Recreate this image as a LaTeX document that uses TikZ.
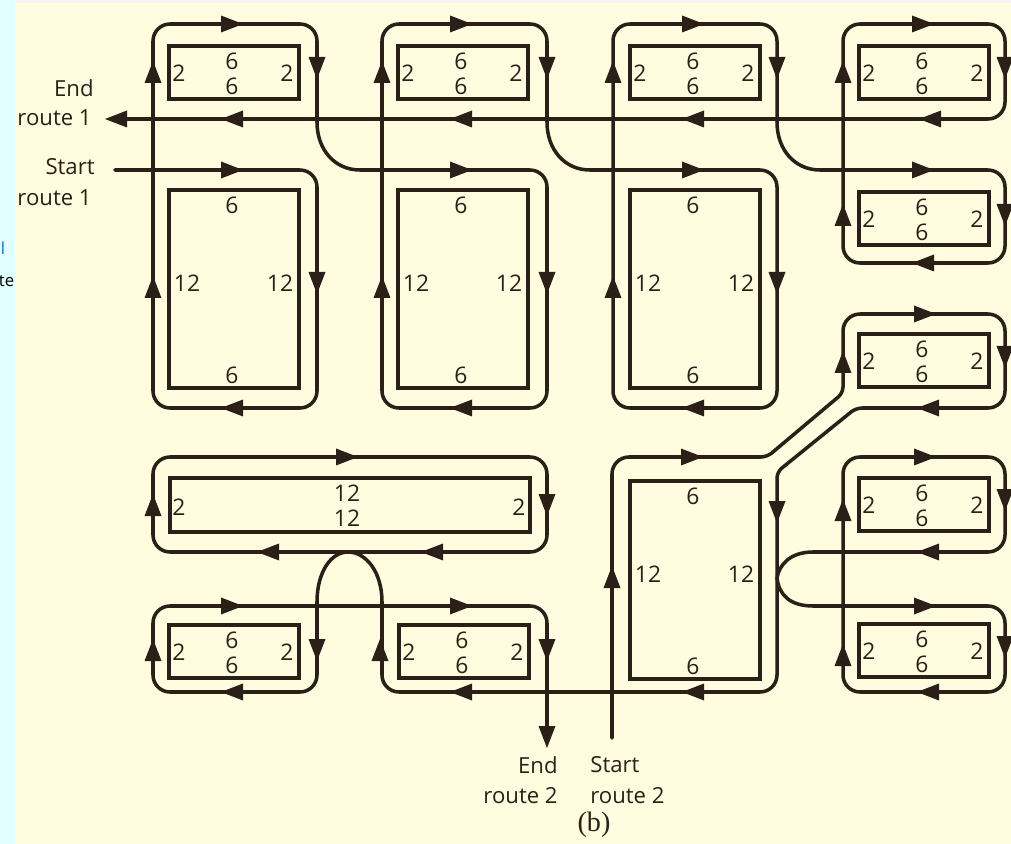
\documentclass[tikz,border=0pt]{standalone}
\usepackage{fontspec}
\setmainfont{Open Sans}
\newfontfamily\capfont{Liberation Serif}
\usetikzlibrary{arrows.meta, positioning, calc}
\definecolor{cink}{HTML}{2B2018}
\definecolor{cpaper}{HTML}{FFFCDF}
\definecolor{cside}{HTML}{E2FFFF}
\definecolor{cblue}{HTML}{0A6FD0}
\tikzset{
  route/.style={cink, line width=2pt, line join=round, line cap=round, rounded corners=0.34cm},
  slant/.style={route, rounded corners=0.12cm},
  turn/.style={cink, line width=2pt, line cap=round},
  block/.style={cink, line width=2.1pt},
  tipmark/.style={fill=cink, draw=none},
  num/.style={text=cink, font=\fontsize{13}{15}\selectfont, inner sep=0pt},
  tag/.style={text=cink, font=\fontsize{12.6}{14}\selectfont, inner sep=0pt},
  stub/.style={font=\fontsize{9.5}{11}\selectfont, inner sep=0pt}
}
\begin{document}
\begin{tikzpicture}[x=0.02cm, y=-0.02cm]
  % Page
  \useasboundingbox (0,0) rectangle (1011,844);
  \fill[cside] (0,0) rectangle (1011,844);
  \fill[white!96!black] (15,0) rectangle (1011,3);
  \fill[cpaper] (15,3) rectangle (1011,844);
  \node[stub, text=cblue, anchor=west] (stubl) at (0.5,248) {l};
  \node[stub, text=black, anchor=east] (stubte) at (14.5,281) {te};

  % Small blocks
  \foreach \n/\x/\y in {a/234/72, b/463/72, c/695/72, d/924/72, e/924/218,
                        f/924/360, g/924/504, h/924/650, i/234/651, j/464/651}{
    \draw[block] (\x-65,\y-26) rectangle (\x+65,\y+27);
    \node[num] (\n top) at (\x-2,\y-11) {6};
    \node[num] (\n low) at (\x-2,\y+14) {6};
    \node[num] (\n lft) at (\x-55,\y+1) {2};
    \node[num] (\n rgt) at (\x+53,\y+1) {2};
  }

  % Large blocks
  \foreach \n/\x/\y in {k/234/289, l/463/289, m/695/289, n/695/580}{
    \draw[block] (\x-65,\y-99) rectangle (\x+65,\y+99);
    \node[num] (\n top) at (\x-2,\y-84) {6};
    \node[num] (\n low) at (\x-2,\y+86) {6};
    \node[num] (\n lft) at (\x-47,\y-6) {12};
    \node[num] (\n rgt) at (\x+46,\y-6) {12};
  }

  % Long block
  \draw[block] (170,478) rectangle (530,532);
  \node[num] (wtop) at (347,493) {12};
  \node[num] (wlow) at (347,518) {12};
  \node[num] (wlft) at (179,507) {2};
  \node[num] (wrgt) at (519,507) {2};

  % Route 1
  \coordinate (startone) at (115,170);
  \coordinate (endone) at (120,119);
  \draw[route] (startone) -- (317,170) -- (317,408) -- (153,408) -- (153,24) -- (317,24) -- (317,122);
  \draw[turn] (317,122) .. controls (317,150) and (335,170) .. (360,170);
  \draw[route] (360,170) -- (547,170) -- (547,408) -- (382,408) -- (382,24) -- (547,24) -- (547,122);
  \draw[turn] (547,122) .. controls (547,150) and (565,170) .. (590,170);
  \draw[route] (590,170) -- (777,170) -- (777,408) -- (613,408) -- (613,24) -- (777,24) -- (777,122);
  \draw[turn] (777,122) .. controls (777,150) and (795,170) .. (820,170);
  \draw[route] (820,170) -- (1005,170) -- (1005,263) -- (843,263) -- (843,24) -- (1005,24) -- (1005,119) -- (endone);

  % Route 2
  \coordinate (starttwo) at (612,738);
  \coordinate (endtwo) at (547,730);
  \draw[route] (starttwo) -- (612,457) -- (700,457);
  \draw[slant] (700,457) -- (767,457) -- (843,393) -- (843,360);
  \draw[route] (843,360) -- (843,314) -- (1005,314) -- (1005,408) -- (900,408);
  \draw[slant] (900,408) -- (856,408) -- (777,472) -- (777,578);
  \draw[turn] (777,578) .. controls (779,595) and (790,606) .. (813,606);
  \draw[route] (813,606) -- (1005,606) -- (1005,692) -- (843,692) -- (843,457) -- (1005,457) -- (1005,552) -- (813,552);
  \draw[turn] (813,552) .. controls (790,552) and (779,565) .. (777,578);
  \draw[route] (777,578) -- (777,692) -- (382,692) -- (382,602);
  \draw[turn] (382,602) .. controls (382,572) and (366,552) .. (348,552);
  \draw[route] (348,552) -- (153,552) -- (153,457) -- (547,457) -- (547,552) -- (348,552);
  \draw[turn] (348,552) .. controls (331,552) and (317,572) .. (317,602);
  \draw[route] (317,602) -- (317,692) -- (153,692) -- (153,606) -- (547,606) -- (endtwo);

  % Arrow heads on the lines
  \foreach \x/\y/\a in {
      232/24/0, 461/24/0, 693/24/0, 923/24/0, 232/170/0, 461/170/0, 693/170/0, 923/170/0,
      692/457/0, 925/314/0, 925/457/0, 925/606/0, 347/457/0, 232/606/0, 461/606/0,
      232/119/180, 461/119/180, 693/119/180, 930/119/180, 116/119/180,
      232/408/180, 461/408/180, 693/408/180, 923/263/180, 928/408/180, 928/552/180,
      928/692/180, 268/552/180, 432/552/180, 232/692/180, 461/692/180, 693/692/180,
      153/72/90, 382/72/90, 613/72/90, 843/72/90, 153/287/90, 382/287/90, 613/287/90,
      843/215/90, 843/362/90, 843/510/90, 843/655/90, 612/577/90, 153/505/90, 153/650/90, 380/650/90,
      317/68/270, 547/68/270, 777/68/270, 1005/68/270, 317/283/270, 547/283/270, 777/283/270,
      1005/215/270, 1005/357/270, 1005/500/270, 1005/647/270, 777/512/270, 547/505/270,
      317/650/270, 547/650/270, 547/737/270}{
    \fill[tipmark, shift={(\x,\y)}, rotate=\a] (11,0) -- (-11,-8.5) -- (-11,8.5) -- cycle;
  }

  % Labels
  \node[tag, anchor=east] (endonea) at (94,88) {End};
  \node[tag, anchor=east] (endoneb) at (92,118) {route 1};
  \node[tag, anchor=east] (startonea) at (95,167) {Start};
  \node[tag, anchor=east] (startoneb) at (92,198) {route 1};
  \node[tag, anchor=east] (endtwoa) at (558,765) {End};
  \node[tag, anchor=east] (endtwob) at (558,796) {route 2};
  \node[tag, anchor=west] (starttwoa) at (590,765) {Start};
  \node[tag, anchor=west] (starttwob) at (590,796) {route 2};
  \node[text=cink, font=\capfont\fontsize{16}{18}\selectfont, inner sep=0pt] (cap) at (594,825) {(b)};
\end{tikzpicture}
\end{document}
